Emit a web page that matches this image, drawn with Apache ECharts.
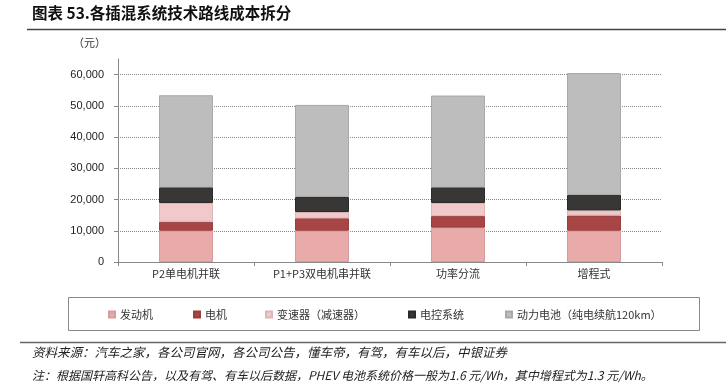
<!DOCTYPE html>
<html><head><meta charset="utf-8">
<script src="https://cdn.jsdelivr.net/npm/echarts@6/dist/echarts.min.js"></script>
<style>html,body{margin:0;padding:0;background:#fff}#c{width:726px;height:388px}</style>
</head><body><div id="c"></div>
<script>
const categories = ['P2单电机并联', 'P1+P3双电机串并联', '功率分流', '增程式'];
const engine = [10000, 10000, 11000, 10000];
const motor = [2900, 4000, 3700, 4900];
const transmission = [6000, 2000, 4200, 1600];
const control = [5000, 4800, 5000, 5000];
const battery = [29500, 29500, 29400, 39000];
const seriesNames = ['发动机', '电机', '变速器（减速器）', '电控系统', '动力电池（纯电续航120km）'];
const yTicks = { min: 0, max: 65000, interval: 10000 };

const colors = ['#E8ABAA', '#A84545', '#F0CACA', '#393735', '#BDBDBD'];
const borders = ['#D59C9B', '#9A3D3D', '#DDB6B6', '#2C2A28', '#A9A9A9'];
const dataArr = [engine, motor, transmission, control, battery];
const cjk = '"Noto Sans CJK SC", sans-serif';
const legendLeft = [108, 193, 265, 408, 505];

const chart = echarts.init(document.getElementById('c'));
chart.setOption({
  animation: false,
  grid: { left: 118, right: 64, top: 59, bottom: 126 },
  xAxis: {
    type: 'category', data: categories,
    axisLine: { lineStyle: { color: '#888', width: 1 } },
    axisTick: { show: true, length: 4, lineStyle: { color: '#888' } },
    axisLabel: { color: '#333', fontSize: 11, fontFamily: cjk, margin: 6 }
  },
  yAxis: {
    type: 'value', min: yTicks.min, max: yTicks.max, interval: yTicks.interval,
    axisLine: { show: true, lineStyle: { color: '#888' } },
    axisTick: { show: true, length: 4, lineStyle: { color: '#888' } },
    axisLabel: { color: '#222', fontSize: 11, fontFamily: '"Liberation Sans", Arial', margin: 14, showMaxLabel: false,
      formatter: v => v.toLocaleString('en-US') },
    splitLine: { show: true, showMaxLine: false, lineStyle: { color: '#888', type: 'dotted', width: 1 } }
  },
  legend: seriesNames.map((n, i) => ({
    data: [n], left: legendLeft[i], top: 309, icon: 'rect', itemWidth: 6, itemHeight: 6,
    padding: 0, textStyle: { color: '#333', fontSize: 11, fontFamily: cjk }
  })),
  series: seriesNames.map((n, i) => ({
    name: n, type: 'bar', stack: 'total', barWidth: 54, data: dataArr[i],
    itemStyle: { color: colors[i], borderColor: borders[i], borderWidth: 1 }
  })),
  graphic: [
    { type: 'text', left: 32, top: 5, style: { text: '图表 53.各插混系统技术路线成本拆分', font: 'bold 15.5px ' + cjk, fill: '#111' } },
    { type: 'line', shape: { x1: 27, y1: 29.5, x2: 726, y2: 29.5 }, style: { stroke: '#444', lineWidth: 1.5 } },
    { type: 'text', left: 73, top: 37, style: { text: '（元）', font: '11px ' + cjk, fill: '#333' } },
    { type: 'rect', shape: { x: 68.5, y: 297.5, width: 631, height: 33 }, style: { fill: 'none', stroke: '#888', lineWidth: 1 } },
    { type: 'line', shape: { x1: 20, y1: 342.5, x2: 726, y2: 342.5 }, style: { stroke: '#666', lineWidth: 1.5 } },
    { type: 'text', left: 32, top: 346, style: { text: '资料来源：汽车之家，各公司官网，各公司公告，懂车帝，有驾，有车以后，中银证券', font: 'italic 12.5px ' + cjk, fill: '#222' } },
    { type: 'text', left: 32, top: 369, style: { text: '注：根据国轩高科公告，以及有驾、有车以后数据，PHEV 电池系统价格一般为1.6 元/Wh，其中增程式为1.3 元/Wh。', font: 'italic 12px ' + cjk, fill: '#222' } }
  ]
});
</script></body></html>
